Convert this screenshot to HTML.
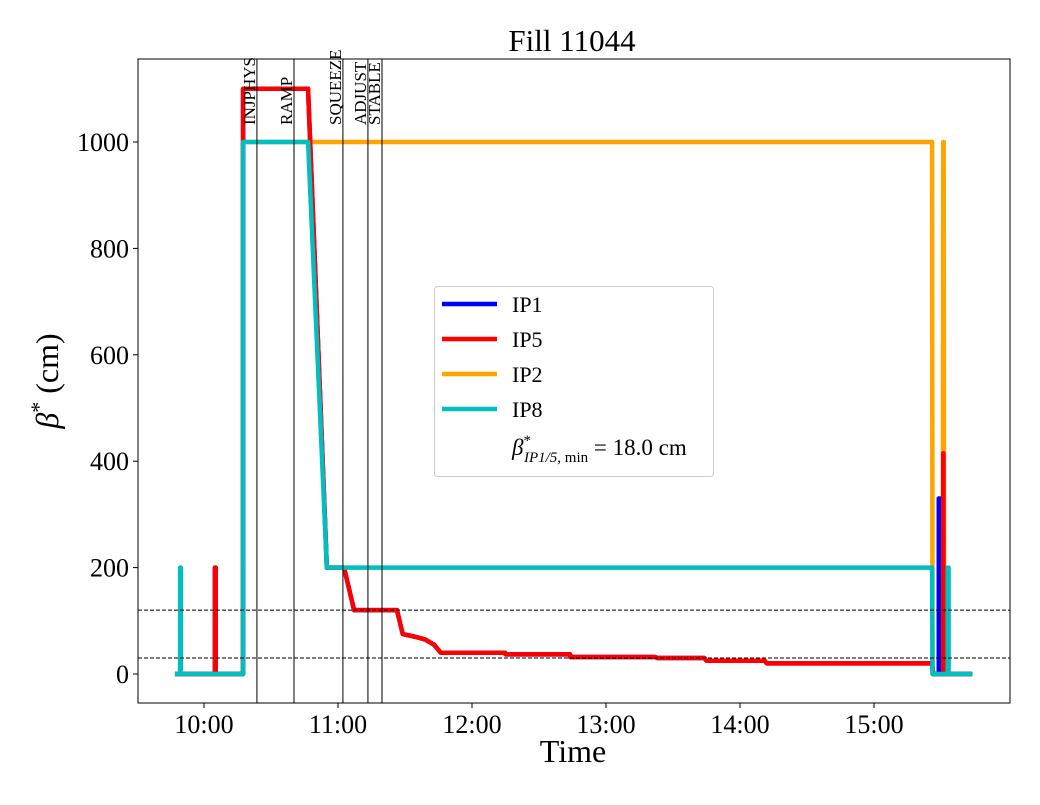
<!DOCTYPE html>
<html><head><meta charset="utf-8"><style>
body{margin:0;background:#fff}
svg text{font-family:"Liberation Serif",serif}
</style></head><body>
<svg id="c" width="1040" height="800"></svg>
<script>
const tickMinutes=[0,60,120,180,240,300];
const tickLabels=["10:00","11:00","12:00","13:00","14:00","15:00"];
const yTicks=[0,200,400,600,800,1000];
const ip1T=[-13,4.9,4.9,5.2,5.2,17.5,17.5,46.6,55,62.7,67.2,86.4,89,94.5,99,103,106,134.8,135,163.9,164,202,203,224,225,251,252,326,326.5,329,329,329.5,329.5,344];
const ip1V=[0,0,200,200,0,0,1100,1100,200,200,120,120,75,70,65,55,40,40,37,37,32,32,30,30,25,25,20,20,0,0,330,330,0,0];
const ip5T=[-13,4.9,4.9,5.2,5.2,17.5,17.5,46.6,55,62.7,67.2,86.4,89,94.5,99,103,106,134.8,135,163.9,164,202,203,224,225,251,252,326,326.5,331,331,331.1,331.1,344];
const ip5V=[0,0,200,200,0,0,1100,1100,200,200,120,120,75,70,65,55,40,40,37,37,32,32,30,30,25,25,20,20,0,0,415,415,0,0];
const ip2T=[-13,17.5,17.5,326,326.2,330.8,331,331.2,331.4,344];
const ip2V=[0,0,1000,1000,0,0,1000,1000,0,0];
const ip8T=[-13,-10.7,-10.7,-10.4,-10.4,17.5,17.5,46.6,55,326,326.2,333,333,333.4,333.4,344];
const ip8V=[0,0,200,200,0,0,1000,1000,200,200,0,0,200,200,0,0];
const phaseNames=["INJPHYS","RAMP","SQUEEZE","ADJUST","STABLE"];
const phaseT=[23.7,40.3,62.2,73.4,79.7];
const refLines=[120,30];
const NS="http://www.w3.org/2000/svg";
const svg=document.getElementById('c');
const L=138,R=1010,T=59,B=703;
const X=m=>204+m*134/60;
const Y=v=>674-v*0.532;
function el(tag,attrs,parent){const e=document.createElementNS(NS,tag);for(const k in attrs)e.setAttribute(k,attrs[k]);(parent||svg).appendChild(e);return e;}
const clip=el('clipPath',{id:'pc'});el('rect',{x:L,y:T,width:R-L,height:B-T},clip);
const plot=el('g',{'clip-path':'url(#pc)'});


function series(ts,vs,color,name,w){
 const p=el('polyline',{points:ts.map((t,i)=>X(t)+','+Y(vs[i])).join(' '),fill:'none',stroke:color,'stroke-width':w,'stroke-linejoin':'round'},plot);
 
 
}
series(ip2T,ip2V,'#ffa500','ip2-line',4.5);
series(ip1T,ip1V,'#0000ff','ip1-line',4.5);
series(ip5T,ip5V,'#ff0000','ip5-line',4.5);
series(ip8T,ip8V,'#00bfbf','ip8-line',4.5);
refLines.forEach((v,i)=>{const l=el('line',{x1:L,x2:R,y1:Y(v),y2:Y(v),stroke:'#000','stroke-width':1,'stroke-dasharray':'4,2'});
 
 });
phaseT.forEach((t,i)=>{const l=el('line',{x1:X(t),x2:X(t),y1:T,y2:B,stroke:'#000','stroke-width':1});
 
 
 const tx=el('text',{x:0,y:0,'font-size':17,'text-anchor':'start',transform:`translate(${X(t)-2},${T+66}) rotate(-90)`});
 tx.textContent=phaseNames[i];
 
 
});
const fr=el('rect',{x:L,y:T,width:R-L,height:B-T,fill:'none',stroke:'#000','stroke-width':1});


tickMinutes.forEach((m,i)=>{el('line',{x1:X(m),x2:X(m),y1:B,y2:B+5,stroke:'#000'});
 const t=el('text',{x:X(m),y:B+30,'font-size':26,'text-anchor':'middle'});t.textContent=tickLabels[i];
 
 });
yTicks.forEach(v=>{el('line',{x1:L-5,x2:L,y1:Y(v),y2:Y(v),stroke:'#000'});
 const t=el('text',{x:L-9,y:Y(v)+9,'font-size':26,'text-anchor':'end'});t.textContent=v;
 
 });
</script>
<svg width="1040" height="800" style="position:absolute;left:0;top:0">
<text x="572" y="51" font-size="31" text-anchor="middle">Fill 11044</text>
<text x="573" y="762" font-size="32" text-anchor="middle">Time</text>
<text transform="translate(58,381) rotate(-90)" font-size="32" text-anchor="middle"><tspan font-style="italic">β</tspan><tspan dy="-12" font-size="22">*</tspan><tspan dy="12"> (cm)</tspan></text>
<g>
<rect x="434.5" y="286.5" width="279" height="190" rx="3" fill="#fff" stroke="#ccc"/>
<g><line x1="442" x2="497" y1="304" y2="304" stroke="#0000ff" stroke-width="4.5"/><text x="512" y="312" font-size="22">IP1</text></g>
<g><line x1="442" x2="497" y1="339" y2="339" stroke="#ff0000" stroke-width="4.5"/><text x="512" y="347" font-size="22">IP5</text></g>
<g><line x1="442" x2="497" y1="374" y2="374" stroke="#ffa500" stroke-width="4.5"/><text x="512" y="382" font-size="22">IP2</text></g>
<g><line x1="442" x2="497" y1="409" y2="409" stroke="#00bfbf" stroke-width="4.5"/><text x="512" y="417" font-size="22">IP8</text></g>
<text x="512" y="455" font-size="23"><tspan font-style="italic">β</tspan><tspan dy="-10" font-size="15">*</tspan><tspan dx="-7" dy="17" font-size="15" font-style="italic">IP1/5</tspan><tspan font-size="15">, min</tspan><tspan dy="-7"> = 18.0 cm</tspan></text>
</g>
</svg>
</body></html>
